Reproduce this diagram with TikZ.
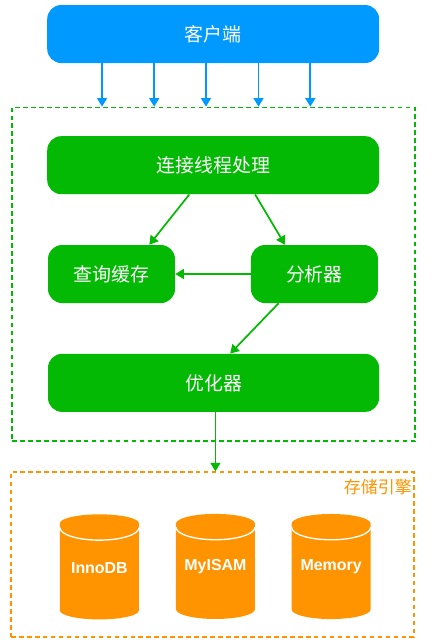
\documentclass[tikz,border=0pt]{standalone}
\usepackage{fontspec}
\setmainfont{Liberation Sans}
\newfontfamily\cjk{Noto Sans CJK SC}
\usepackage{tikz}
\usetikzlibrary{arrows.meta,shapes.geometric}
\definecolor{clientblue}{HTML}{0099FF}
\definecolor{servergreen}{HTML}{04B904}
\definecolor{engineorange}{HTML}{FF9300}
\tikzset{
    box/.style={rounded corners=0.37cm, text=white, font=\cjk\fontsize{14.25}{16}\selectfont, minimum height=1.535cm, inner sep=0pt},
    widebox/.style={box, fill=servergreen, minimum width=8.78cm},
    smallbox/.style={box, fill=servergreen, minimum width=3.36cm},
    frame/.style={dash pattern=on 3.5pt off 2.5pt, line width=1pt, inner sep=0pt},
    flow/.style={-{Triangle[width=7.5pt,length=6.5pt]}, line width=1.3pt},
    db/.style={cylinder, shape border rotate=90, aspect=0.316, fill=engineorange, minimum width=2.09cm, minimum height=2.78cm, inner sep=0pt, font=\fontsize{12}{14}\bfseries\selectfont},
    dblabel/.style={text=white, font=\fontsize{12}{14}\bfseries\selectfont, inner sep=0pt}
}
\begin{document}
\begin{tikzpicture}
    \useasboundingbox (0,0) rectangle (11.536,-17.039);
    \node[box, fill=clientblue, minimum width=8.78cm] (client) at (5.64,-0.90) {客户端};
    \node[frame, draw=servergreen, minimum width=10.66cm, minimum height=8.83cm] (server) at (5.65,-7.255) {};
    \node[widebox] (conn) at (5.64,-4.37) {连接线程处理};
    \node[smallbox] (cache) at (2.95,-7.25) {查询缓存};
    \node[smallbox] (parser) at (8.32,-7.25) {分析器};
    \node[widebox, minimum width=8.76cm] (optimizer) at (5.65,-10.13) {优化器};
    \node[frame, draw=engineorange, minimum width=10.66cm, minimum height=4.36cm] (engine) at (5.62,-14.67) {};
    \node[text=engineorange, font=\cjk\fontsize{12.75}{15}\selectfont, anchor=east, inner sep=0pt] (enginelabel) at (10.9,-12.89) {存储引擎};

    % client connections
    \foreach \dx in {-2.94,-1.56,-0.19,1.2,2.57}
        \draw[flow, clientblue] ([xshift=\dx cm]client.south) -- ([xshift=\dx cm]client.south |- server.north);

    \draw[flow, servergreen] ([xshift=-0.63cm]conn.south) -- ([xshift=1cm]cache.north);
    \draw[flow, servergreen] ([xshift=1.11cm]conn.south) -- ([xshift=-0.78cm]parser.north);
    \draw[flow, servergreen] (parser.west) -- (cache.east);
    \draw[flow, servergreen] ([xshift=-0.95cm]parser.south) -- ([xshift=0.44cm]optimizer.north);
    \draw[flow, servergreen] ([xshift=0.05cm]optimizer.south) -- ([xshift=0.05cm]optimizer.south |- engine.north);

    % engines
    \foreach \n/\x/\y/\lab in {inno/2.63/-15.03/InnoDB,myisam/5.70/-14.98/MyISAM,memory/8.76/-14.98/Memory} {
        \node[db] (\n) at (\x,-15.12) {\phantom{\lab}};
        \draw[white, line width=1pt] ([shift={(-1.045,-0.36)}]\n.north) arc (180:360:1.045 and 0.33);
        \node[dblabel] (\n label) at (\x,\y) {\lab};
    }
\end{tikzpicture}
\end{document}
